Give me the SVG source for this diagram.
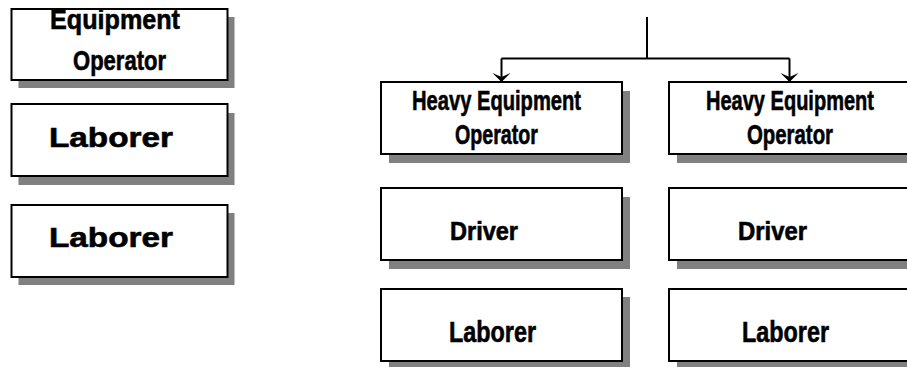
<svg xmlns="http://www.w3.org/2000/svg" width="907" height="367" viewBox="0 0 907 367">
<defs>
<style>
.shadow{fill:#808080;stroke:none}
.box{fill:#fff;stroke:#000;stroke-width:2}
.t{font-family:"Liberation Sans",Arial,sans-serif;font-weight:bold;font-size:28px;fill:#000;stroke:#000;stroke-width:0.6}
.c{fill:none;stroke:#000;stroke-width:2}
</style>
<marker id="arr" markerUnits="userSpaceOnUse" markerWidth="12" markerHeight="20" refX="10" refY="10" orient="auto" viewBox="0 0 12 20">
<path d="M10,10 L1,1 L5,10 L1,19 Z" fill="#000"/>
</marker>
</defs>
<rect width="907" height="367" fill="#fff"/>

<g id="connectors">
<path class="c" d="M647,17 V58.5"/>
<path class="c" d="M501.5,58.5 H789.5"/>
<path class="c" d="M501.5,58.5 V82" marker-end="url(#arr)"/>
<path class="c" d="M789.5,58.5 V82" marker-end="url(#arr)"/>
</g>

<g id="left-equipment-operator">
<rect class="shadow" x="18.5" y="17" width="216" height="71"/>
<rect class="box" x="11.5" y="9" width="216" height="71"/>
<text class="t" x="50" y="29" textLength="130" lengthAdjust="spacingAndGlyphs">Equipment</text>
<text class="t" x="73" y="70" textLength="93" lengthAdjust="spacingAndGlyphs">Operator</text>
</g>
<g id="left-laborer-1">
<rect class="shadow" x="18.5" y="113" width="216" height="72"/>
<rect class="box" x="11.5" y="104" width="216" height="72"/>
<text class="t" x="49" y="147" textLength="124" lengthAdjust="spacingAndGlyphs">Laborer</text>
</g>
<g id="left-laborer-2">
<rect class="shadow" x="18.5" y="213" width="216" height="72"/>
<rect class="box" x="11.5" y="205" width="216" height="72"/>
<text class="t" x="49" y="247" textLength="124" lengthAdjust="spacingAndGlyphs">Laborer</text>
</g>

<g id="heo-1">
<rect class="shadow" x="389" y="91" width="241" height="72"/>
<rect class="box" x="381" y="82" width="241" height="72"/>
<text class="t" x="412" y="110" textLength="169" lengthAdjust="spacingAndGlyphs">Heavy Equipment</text>
<text class="t" x="455" y="144" textLength="83" lengthAdjust="spacingAndGlyphs">Operator</text>
</g>
<g id="heo-2">
<rect class="shadow" x="677" y="91" width="241" height="72"/>
<rect class="box" x="669" y="82" width="241" height="72"/>
<text class="t" x="706" y="110" textLength="168" lengthAdjust="spacingAndGlyphs">Heavy Equipment</text>
<text class="t" x="747" y="144" textLength="86" lengthAdjust="spacingAndGlyphs">Operator</text>
</g>
<g id="driver-1">
<rect class="shadow" x="389" y="197" width="241" height="72"/>
<rect class="box" x="381" y="188" width="241" height="72"/>
<text class="t" x="450" y="240" textLength="68" lengthAdjust="spacingAndGlyphs" style="font-size:25px">Driver</text>
</g>
<g id="driver-2">
<rect class="shadow" x="677" y="197" width="241" height="72"/>
<rect class="box" x="669" y="188" width="241" height="72"/>
<text class="t" x="738" y="240" textLength="69" lengthAdjust="spacingAndGlyphs" style="font-size:25px">Driver</text>
</g>
<g id="laborer-1">
<rect class="shadow" x="389" y="297" width="241" height="72"/>
<rect class="box" x="381" y="289" width="241" height="72"/>
<text class="t" x="449" y="342" textLength="87" lengthAdjust="spacingAndGlyphs" style="font-size:29px">Laborer</text>
</g>
<g id="laborer-2">
<rect class="shadow" x="677" y="297" width="241" height="72"/>
<rect class="box" x="669" y="289" width="241" height="72"/>
<text class="t" x="742" y="342" textLength="87" lengthAdjust="spacingAndGlyphs" style="font-size:29px">Laborer</text>
</g>
</svg>
